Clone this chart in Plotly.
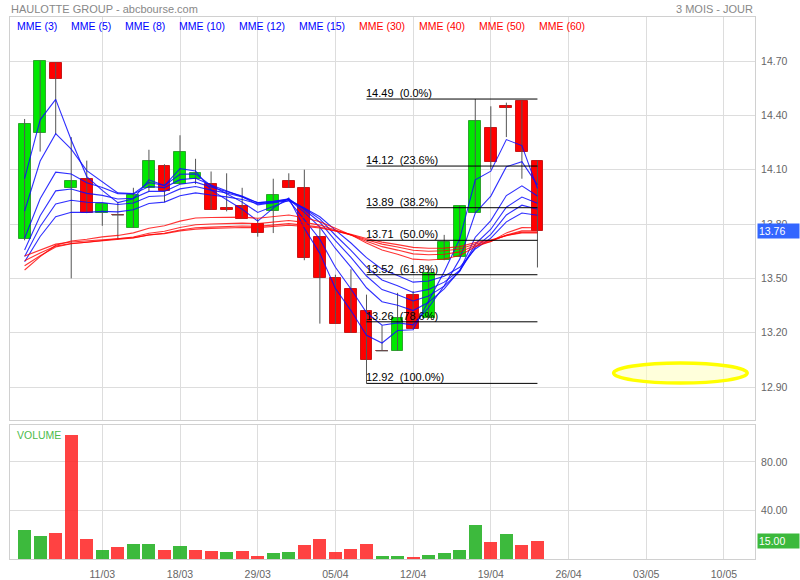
import plotly.graph_objects as go

# ---------------- data ----------------
day_index = list(range(34))
opens = [13.715, 14.30, 14.69, 14.00, 14.05, 13.86, 13.85, 13.78, 14.00, 14.12, 14.02, 14.05, 14.02, 13.89, 13.90, 13.80, 13.87,
         14.04, 14.00, 13.73, 13.50, 13.44, 13.32, 13.10, 13.10, 13.41, 13.28, 13.60, 13.62, 13.86, 14.33, 14.45, 14.48, 14.15]
highs = [14.38, 14.70, 14.69, 14.28, 14.15, 13.91, 13.92, 14.00, 14.21, 14.13, 14.29, 14.16, 14.09, 14.08, 14.00, 13.83, 14.05,
         14.08, 14.10, 13.78, 13.52, 13.55, 13.41, 13.24, 13.42, 13.43, 13.57, 13.74, 13.90, 14.49, 14.45, 14.47, 14.48, 14.15]
lows = [13.71, 14.20, 14.295, 13.50, 13.86, 13.79, 13.715, 13.78, 13.98, 13.92, 14.02, 14.02, 13.88, 13.87, 13.83, 13.73, 13.75,
        14.00, 13.60, 13.25, 13.25, 13.20, 12.92, 13.10, 13.10, 13.22, 13.28, 13.60, 13.62, 13.86, 14.10, 14.28, 14.05, 13.56]
closes = [14.35, 14.70, 14.60, 14.04, 13.86, 13.91, 13.85, 13.96, 14.15, 13.98, 14.20, 14.08, 13.88, 13.88, 13.83, 13.75, 13.96,
          14.00, 13.61, 13.50, 13.25, 13.20, 13.05, 13.10, 13.28, 13.22, 13.53, 13.70, 13.90, 14.37, 14.14, 14.44, 14.20, 13.76]
volumes = [24.2, 19.0, 21.7, 102.5, 16.8, 7.7, 9.9, 12.6, 12.6, 7.7, 11.0, 7.7, 6.6, 5.8, 6.6, 2.7, 4.7,
           5.8, 11.8, 16.8, 5.8, 8.5, 12.6, 2.7, 2.7, 1.9, 3.6, 4.7, 7.7, 28.0, 13.7, 20.9, 11.8, 15.0]

mme3 = [14.050, 14.375, 14.488, 14.264, 14.062, 13.986, 13.918, 13.939, 14.044, 14.012, 14.106, 14.093, 13.987, 13.933, 13.882, 13.816, 13.888,
        13.944, 13.777, 13.638, 13.444, 13.322, 13.186, 13.143, 13.212, 13.216, 13.373, 13.536, 13.718, 14.044, 14.092, 14.266, 14.233, 13.997]
mme5 = [13.872, 14.148, 14.299, 14.213, 14.095, 14.033, 13.972, 13.968, 14.029, 14.013, 14.075, 14.077, 14.011, 13.967, 13.921, 13.864, 13.896,
        13.931, 13.824, 13.716, 13.561, 13.441, 13.311, 13.241, 13.254, 13.243, 13.339, 13.459, 13.606, 13.861, 13.954, 14.116, 14.144, 14.016]
mme8 = [13.721, 13.939, 14.086, 14.076, 14.028, 14.002, 13.968, 13.966, 14.007, 14.001, 14.045, 14.053, 14.015, 13.985, 13.951, 13.906, 13.918,
        13.936, 13.864, 13.783, 13.665, 13.562, 13.448, 13.371, 13.351, 13.322, 13.368, 13.442, 13.544, 13.727, 13.819, 13.957, 14.011, 13.955]
mme10 = [13.656, 13.846, 13.983, 13.993, 13.969, 13.958, 13.938, 13.942, 13.980, 13.980, 14.020, 14.031, 14.004, 13.981, 13.954, 13.917, 13.925,
         13.939, 13.879, 13.810, 13.708, 13.616, 13.513, 13.438, 13.409, 13.375, 13.403, 13.457, 13.538, 13.689, 13.771, 13.893, 13.949, 13.915]
mme12 = [13.620, 13.786, 13.911, 13.931, 13.920, 13.918, 13.908, 13.916, 13.952, 13.956, 13.994, 14.007, 13.987, 13.971, 13.949, 13.918, 13.924,
         13.936, 13.886, 13.827, 13.738, 13.655, 13.562, 13.491, 13.459, 13.422, 13.439, 13.479, 13.544, 13.671, 13.743, 13.850, 13.904, 13.882]
mme15 = [13.592, 13.731, 13.840, 13.865, 13.864, 13.870, 13.867, 13.879, 13.913, 13.921, 13.956, 13.972, 13.960, 13.950, 13.935, 13.912, 13.918,
         13.928, 13.888, 13.840, 13.766, 13.695, 13.614, 13.550, 13.516, 13.479, 13.485, 13.512, 13.561, 13.662, 13.722, 13.812, 13.861, 13.848]
mme30 = [13.546, 13.620, 13.683, 13.706, 13.716, 13.729, 13.737, 13.751, 13.777, 13.790, 13.816, 13.833, 13.836, 13.839, 13.838, 13.832, 13.840,
         13.850, 13.835, 13.813, 13.777, 13.740, 13.695, 13.657, 13.633, 13.606, 13.601, 13.607, 13.626, 13.674, 13.704, 13.751, 13.780, 13.779]
mme40 = [13.570, 13.625, 13.673, 13.691, 13.699, 13.709, 13.716, 13.728, 13.749, 13.760, 13.781, 13.796, 13.800, 13.804, 13.805, 13.802, 13.810,
         13.819, 13.809, 13.794, 13.767, 13.739, 13.705, 13.675, 13.656, 13.635, 13.630, 13.633, 13.646, 13.681, 13.703, 13.739, 13.762, 13.762]
mme50 = [13.597, 13.640, 13.678, 13.692, 13.699, 13.707, 13.713, 13.723, 13.740, 13.749, 13.767, 13.779, 13.783, 13.787, 13.789, 13.787, 13.794,
         13.802, 13.794, 13.783, 13.762, 13.740, 13.713, 13.689, 13.673, 13.655, 13.650, 13.652, 13.662, 13.690, 13.708, 13.737, 13.755, 13.755]
mme60 = [13.623, 13.658, 13.689, 13.701, 13.706, 13.713, 13.717, 13.725, 13.739, 13.747, 13.762, 13.772, 13.776, 13.779, 13.781, 13.780, 13.786,
         13.793, 13.787, 13.778, 13.761, 13.743, 13.720, 13.700, 13.686, 13.671, 13.666, 13.667, 13.675, 13.698, 13.712, 13.736, 13.751, 13.751]

ma_names = ["MME (3)", "MME (5)", "MME (8)", "MME (10)", "MME (12)", "MME (15)",
            "MME (30)", "MME (40)", "MME (50)", "MME (60)"]
ma_series = [mme3, mme5, mme8, mme10, mme12, mme15, mme30, mme40, mme50, mme60]

tick_positions = [5, 10, 15, 20, 25, 30, 35, 40, 45]
tick_labels = ["11/03", "18/03", "29/03", "05/04", "12/04", "19/04", "26/04", "03/05", "10/05"]
price_ticks = [12.90, 13.20, 13.50, 13.80, 14.10, 14.40, 14.70]
volume_ticks = [40, 80]

fib_levels = [14.49, 14.12, 13.89, 13.71, 13.52, 13.26, 12.92]
fib_percent = ["0.0%", "23.6%", "38.2%", "50.0%", "61.8%", "78.6%", "100.0%"]

# ---------------- styles ----------------
FONT = "Liberation Sans, Arial, sans-serif"
GRID = "#dddddd"
AXIS_TXT = "#666666"
GREEN_BODY, GREEN_EDGE = "#00e800", "#2fa52f"
RED_BODY, RED_EDGE = "#ff0000", "#c81818"
VOL_GREEN, VOL_RED = "rgba(40,178,40,0.9)", "rgba(255,40,40,0.88)"
BLUE_MA, RED_MA = "rgba(10,10,255,0.85)", "rgba(255,0,0,0.8)"

FIG_W, FIG_H = 800, 580
PLOT_LEFT_PX, PLOT_TOP_PX = 10, 17
PLOT_W, PLOT_H = 745, 542

fig = go.Figure()

# wicks
wx, wy = [], []
for i, h, l in zip(day_index, highs, lows):
    wx += [i, i, None]
    wy += [l, h, None]
fig.add_trace(go.Scatter(x=wx, y=wy, mode="lines", line=dict(color="#555555", width=1),
                         hoverinfo="skip", xaxis="x", yaxis="y"))

# bodies
body_w = 0.76
bases = [min(o, c) for o, c in zip(opens, closes)]
heights = [abs(c - o) for o, c in zip(opens, closes)]
up = [c > o for o, c in zip(opens, closes)]
fig.add_trace(go.Bar(x=day_index, y=heights, base=bases, width=body_w,
                     marker=dict(color=[GREEN_BODY if u else RED_BODY for u in up],
                                 line=dict(color=[GREEN_EDGE if u else RED_EDGE for u in up], width=1)),
                     hoverinfo="skip", xaxis="x", yaxis="y"))

# doji ticks
dx, dy = [], []
for i, o, c in zip(day_index, opens, closes):
    if abs(c - o) < 0.005:
        dx += [i - body_w / 2, i + body_w / 2, None]
        dy += [c, c, None]
fig.add_trace(go.Scatter(x=dx, y=dy, mode="lines", line=dict(color="#555555", width=1.2),
                         hoverinfo="skip", xaxis="x", yaxis="y"))

# moving averages
for k, (name, s) in enumerate(zip(ma_names, ma_series)):
    fig.add_trace(go.Scatter(x=day_index, y=s, mode="lines", name=name,
                             line=dict(color=BLUE_MA if k < 6 else RED_MA, width=1.1),
                             hoverinfo="skip", xaxis="x", yaxis="y"))

# fibonacci retracement
fib_start = lows.index(min(lows))
fib_end = day_index[-1]
for lvl, pct in zip(fib_levels, fib_percent):
    fig.add_trace(go.Scatter(x=[fib_start, fib_end], y=[lvl, lvl], mode="lines",
                             line=dict(color="black", width=1), hoverinfo="skip",
                             xaxis="x", yaxis="y"))
    fig.add_annotation(x=fib_start, y=lvl, xref="x", yref="y", xanchor="left", yanchor="bottom",
                       text=f"{lvl:.2f}\u00a0\u00a0({pct})", showarrow=False, yshift=-2, xshift=-2,
                       font=dict(family=FONT, size=11, color="black"))

# volume
vol_colors = [VOL_GREEN if (i == 0 or closes[i] >= closes[i - 1]) else VOL_RED for i in day_index]
fig.add_trace(go.Bar(x=day_index, y=volumes, width=0.84, marker=dict(color=vol_colors, line=dict(width=0)),
                     hoverinfo="skip", xaxis="x2", yaxis="y2"))

# highlighted ellipse (drawing)
fig.add_shape(type="circle", xref="x", yref="y", x0=37.9, x1=46.5, y0=12.922, y1=13.032,
              line=dict(color="#ffff00", width=3.5), fillcolor="rgba(255,255,190,0.55)")

# ---------------- layout ----------------
main_dom = [0.2565, 1.0]
vol_dom = [0.0, 0.2472]
xr = [-0.94, 47.0]

fig.update_layout(
    width=FIG_W, height=FIG_H, showlegend=False, bargap=0,
    margin=dict(l=PLOT_LEFT_PX, r=FIG_W - PLOT_LEFT_PX - PLOT_W,
                t=PLOT_TOP_PX, b=FIG_H - PLOT_TOP_PX - PLOT_H, autoexpand=False),
    paper_bgcolor="white", plot_bgcolor="white",
    font=dict(family=FONT, size=11, color=AXIS_TXT),
    xaxis=dict(domain=[0, 1], range=xr, tickvals=tick_positions, showticklabels=False,
               showgrid=True, gridcolor=GRID, zeroline=False, showline=True, linecolor="#d0d0d0",
               mirror=True, anchor="y", ticks=""),
    yaxis=dict(domain=main_dom, range=[12.718, 14.943], side="right", tickvals=price_ticks,
               tickformat=".2f", showgrid=True, gridcolor=GRID, zeroline=False, showline=True,
               linecolor="#d0d0d0", mirror=True, anchor="x", ticks="", ticklabelstandoff=3,
               tickfont=dict(size=10.5, color=AXIS_TXT)),
    xaxis2=dict(domain=[0, 1], range=xr, tickvals=tick_positions, ticktext=tick_labels,
                showgrid=True, gridcolor=GRID, zeroline=False, showline=True, linecolor="#d0d0d0",
                mirror=True, anchor="y2", ticks="", ticklabelstandoff=5,
                tickfont=dict(size=10.5, color=AXIS_TXT)),
    yaxis2=dict(domain=vol_dom, range=[0, 110.5], side="right", tickvals=volume_ticks,
                tickformat=".2f", showgrid=True, gridcolor=GRID, zeroline=False, showline=True,
                linecolor="#d0d0d0", mirror=True, anchor="x2", ticks="", ticklabelstandoff=3,
                tickfont=dict(size=10.5, color=AXIS_TXT)),
)

# header texts
fig.add_annotation(x=0, y=1, xref="paper", yref="paper", xanchor="left", yanchor="bottom",
                   text="HAULOTTE GROUP - abcbourse.com", showarrow=False, yshift=0, xshift=-1,
                   font=dict(family=FONT, size=11, color="#888888"))
fig.add_annotation(x=1, y=1, xref="paper", yref="paper", xanchor="right", yanchor="bottom",
                   text="3 MOIS - JOUR", showarrow=False, yshift=0,
                   font=dict(family=FONT, size=11, color="#888888"))

# legend row
legend_px = [15, 69, 123, 177, 237, 297, 357, 417, 477, 537]
for k, (name, px) in enumerate(zip(ma_names, legend_px)):
    fig.add_annotation(x=(px - PLOT_LEFT_PX) / PLOT_W, y=1, xref="paper", yref="paper", xanchor="left",
                       yanchor="middle", yshift=-9, text=name, showarrow=False,
                       font=dict(family=FONT, size=10.5, color="#0000ff" if k < 6 else "#ff0000"))

fig.add_annotation(x=(15 - PLOT_LEFT_PX) / PLOT_W, y=vol_dom[1], xref="paper", yref="paper", xanchor="left",
                   yanchor="middle", yshift=-10, text="VOLUME", showarrow=False,
                   font=dict(family=FONT, size=10.5, color="#4cbb4c"))

# last value badges
fig.add_annotation(x=1, y=closes[-1], xref="paper", yref="y", xanchor="left", yanchor="middle",
                   xshift=2, text=f"{closes[-1]:.2f}", showarrow=False, bgcolor="#3366ff",
                   width=39, align="left", borderpad=1, font=dict(family=FONT, size=10.5, color="white"))
fig.add_annotation(x=1, y=volumes[-1], xref="paper", yref="y2", xanchor="left", yanchor="middle",
                   xshift=2, text=f"{volumes[-1]:.2f}", showarrow=False, bgcolor="#3cb93c",
                   width=39, align="left", borderpad=1, font=dict(family=FONT, size=10.5, color="white"))

# remove the browser's default page margin so the 800x580 figure fills the window exactly
fig.write_html("out.html", config={"displayModeBar": False},
               post_script="document.body.style.margin='0';document.body.style.overflow='hidden';")
